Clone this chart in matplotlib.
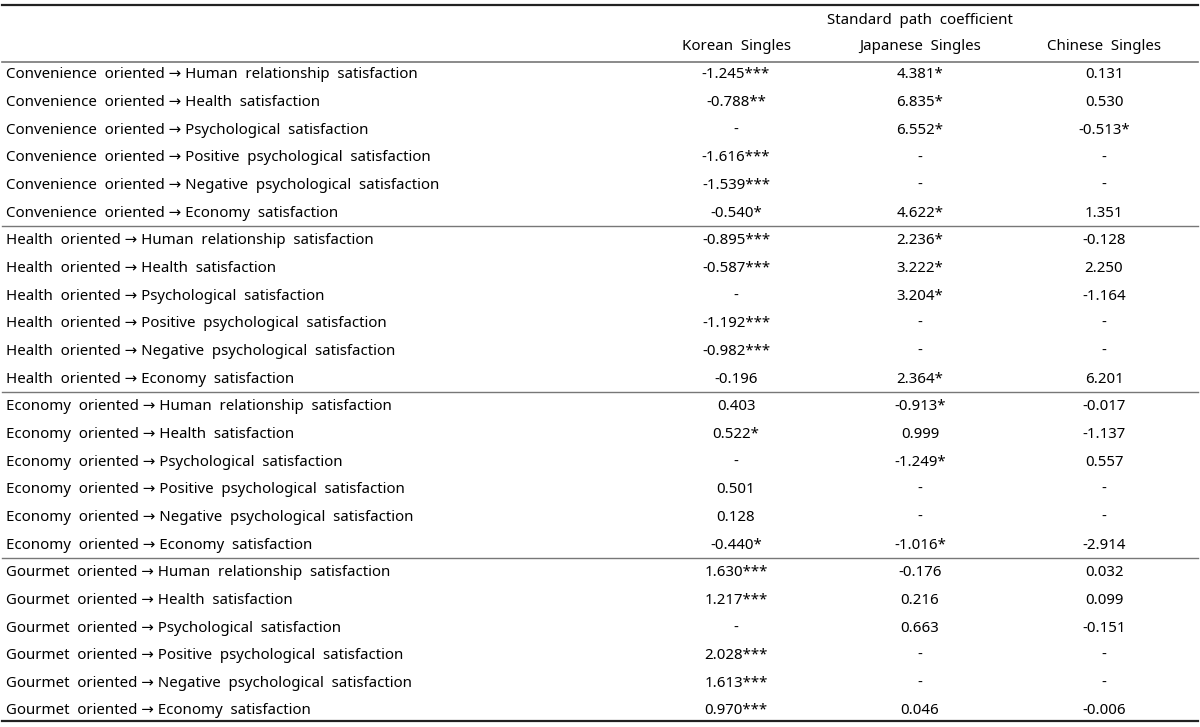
import matplotlib.pyplot as plt

plt.rcParams['font.family'] = ['Noto Sans', 'DejaVu Sans']

# row labels: orientation -> satisfaction
orientations = ["Convenience oriented", "Health oriented", "Economy oriented", "Gourmet oriented"]
satisfactions = ["Human relationship satisfaction", "Health satisfaction",
                 "Psychological satisfaction", "Positive psychological satisfaction",
                 "Negative psychological satisfaction", "Economy satisfaction"]

columns = ["Korean  Singles", "Japanese  Singles", "Chinese  Singles"]

korean = ["-1.245***", "-0.788**", "-", "-1.616***", "-1.539***", "-0.540*",
          "-0.895***", "-0.587***", "-", "-1.192***", "-0.982***", "-0.196",
          "0.403", "0.522*", "-", "0.501", "0.128", "-0.440*",
          "1.630***", "1.217***", "-", "2.028***", "1.613***", "0.970***"]
japanese = ["4.381*", "6.835*", "6.552*", "-", "-", "4.622*",
            "2.236*", "3.222*", "3.204*", "-", "-", "2.364*",
            "-0.913*", "0.999", "-1.249*", "-", "-", "-1.016*",
            "-0.176", "0.216", "0.663", "-", "-", "0.046"]
chinese = ["0.131", "0.530", "-0.513*", "-", "-", "1.351",
           "-0.128", "2.250", "-1.164", "-", "-", "6.201",
           "-0.017", "-1.137", "0.557", "-", "-", "-2.914",
           "0.032", "0.099", "-0.151", "-", "-", "-0.006"]

fig = plt.figure(figsize=(12, 7.27), dpi=100)
ax = fig.add_axes([0, 0, 1, 1])
ax.set_xlim(0, 1200)
ax.set_ylim(727, 0)
ax.axis("off")

fs = 10.8
col_x = [736, 920, 1104]
y0, dy = 75, 27.65

# header
ax.text(920, 20, "Standard  path  coefficient", ha="center", va="center", fontsize=fs)
for cx, name in zip(col_x, columns):
    ax.text(cx, 47, name, ha="center", va="center", fontsize=fs)

# body
values = list(zip(korean, japanese, chinese))
i = 0
for o in orientations:
    for s in satisfactions:
        y = y0 + i * dy
        ax.text(6, y, f"{o.replace(' ', '  ')} \u2192 {s.replace(' ', '  ')}",
                ha="left", va="center", fontsize=fs)
        for cx, v in zip(col_x, values[i]):
            ax.text(cx, y, v, ha="center", va="center", fontsize=fs)
        i += 1

# rules
ax.plot([2, 1198], [4.5, 4.5], color="#222222", lw=1.6)
ax.plot([2, 1198], [61.5, 61.5], color="#777777", lw=1.2)
for g in range(1, len(orientations)):
    ys = y0 - 1 + (g * len(satisfactions) - 0.5) * dy
    ax.plot([2, 1198], [ys, ys], color="#777777", lw=1.0)
ax.plot([2, 1198], [721, 721], color="#222222", lw=1.6)

fig.savefig("out.png", dpi=100)
